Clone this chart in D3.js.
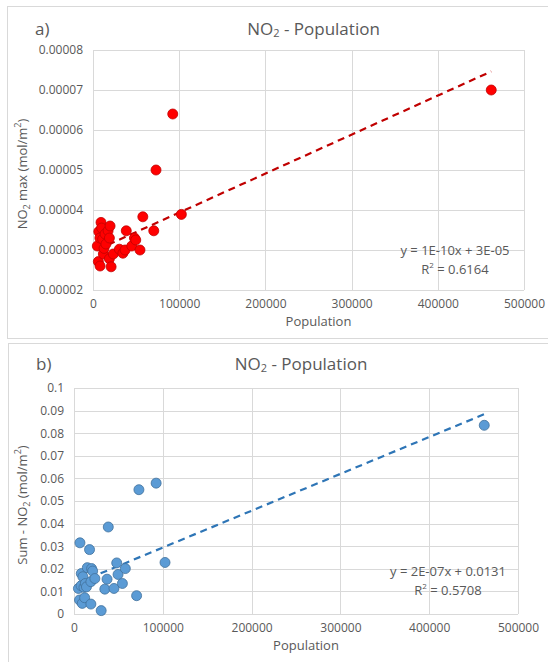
<!DOCTYPE html>
<html>
<head>
<meta charset="utf-8">
<script src="https://cdn.jsdelivr.net/npm/d3@7"></script>
<style>
  body { margin: 0; background: #fff; }
  svg { display: block; font-family: "Open Sans", sans-serif; }
  .grid line { stroke: #d9d9d9; stroke-width: 1; }
  .tick text { fill: #595959; }
</style>
</head>
<body>
<svg width="548" height="662"></svg>
<script>
// population of each town (same for both panels)
var population = [5000, 6200, 6700, 8000, 8200, 9300, 10000, 11200, 12000, 12800, 14000, 15000, 17500, 19000, 19000, 19800,
    21000, 23500, 30600, 34700, 37200, 38600, 45000, 48100, 49600, 54500, 57800, 70500, 73100, 92500, 102500, 462000];
// a) NO2 max (mol/m2)
var no2Max = [0.0000310, 0.0000271, 0.0000346, 0.0000330, 0.0000260, 0.0000369, 0.0000355, 0.0000327, 0.0000290, 0.0000304,
    0.0000340, 0.0000315, 0.0000348, 0.0000278, 0.0000330, 0.0000360, 0.0000258, 0.0000290, 0.0000302, 0.0000292, 0.0000300,
    0.0000348, 0.0000310, 0.0000330, 0.0000325, 0.0000300, 0.0000383, 0.0000348, 0.0000500, 0.0000640, 0.0000389, 0.0000700];
// b) Sum - NO2 (mol/m2)
var no2Sum = [0.0113, 0.0062, 0.0315, 0.0125, 0.0179, 0.0047, 0.0165, 0.0118, 0.0072, 0.0135, 0.0120, 0.0205, 0.0285, 0.0143,
    0.0044, 0.0201, 0.0190, 0.0157, 0.0015, 0.0110, 0.0154, 0.0385, 0.0113, 0.0226, 0.0175, 0.0135, 0.0201, 0.0081, 0.0550,
    0.0579, 0.0228, 0.0835];

var xTicks = [0, 100000, 200000, 300000, 400000, 500000];
var yTicksA = [0.00002, 0.00003, 0.00004, 0.00005, 0.00006, 0.00007, 0.00008];
var yTicksB = [0, 0.01, 0.02, 0.03, 0.04, 0.05, 0.06, 0.07, 0.08, 0.09, 0.1];

// trendlines (the label rounds them)
var trendA = {slope: 9.75e-11, intercept: 0.0000296, eq: "y = 1E-10x + 3E-05", r2: "0.6164"};
var trendB = {slope: 1.63e-7, intercept: 0.0131, eq: "y = 2E-07x + 0.0131", r2: "0.5708"};

var svg = d3.select("svg");
var textColor = "#595959";

function drawPanel(p) {
    var g = svg.append("g");

    g.append("rect")
        .attr("x", p.box[0] + 0.5).attr("y", p.box[1] + 0.5)
        .attr("width", 600).attr("height", p.box[2])
        .attr("fill", "#fff").attr("stroke", "#d9d9d9");

    var x = d3.scaleLinear().domain([0, 500000]).range([p.left, p.right]);
    var y = d3.scaleLinear().domain(p.yDomain).range([p.bottom, p.top]);

    // gridlines
    g.append("g").attr("class", "grid")
        .selectAll("line").data(p.yTicks).enter().append("line")
        .attr("x1", p.left).attr("x2", p.right)
        .attr("y1", function(d){ return Math.round(y(d)) + 0.5; })
        .attr("y2", function(d){ return Math.round(y(d)) + 0.5; });
    g.append("g").attr("class", "grid")
        .selectAll("line").data(xTicks).enter().append("line")
        .attr("y1", p.top).attr("y2", p.bottom)
        .attr("x1", function(d){ return Math.round(x(d)) + 0.5; })
        .attr("x2", function(d){ return Math.round(x(d)) + 0.5; });

    // axes, labels only
    var xAxis = g.append("g")
        .attr("transform", "translate(0," + (p.bottom + 6) + ")")
        .call(d3.axisBottom(x).tickValues(xTicks).tickSize(0).tickFormat(d3.format("d")));
    var yAxis = g.append("g")
        .attr("transform", "translate(" + (p.left - 7) + ",0)")
        .call(d3.axisLeft(y).tickValues(p.yTicks).tickSize(0).tickFormat(p.yFormat));
    [xAxis, yAxis].forEach(function(a) {
        a.select(".domain").remove();
        a.selectAll("text").attr("font-size", 12).attr("font-family", "Open Sans, sans-serif");
    });

    // trendline over the data range
    var xs = d3.extent(population);
    g.append("line")
        .attr("x1", x(xs[0])).attr("y1", y(p.trend.intercept + p.trend.slope * xs[0]))
        .attr("x2", x(xs[1])).attr("y2", y(p.trend.intercept + p.trend.slope * xs[1]))
        .attr("stroke", p.lineColor).attr("stroke-width", 2.2)
        .attr("stroke-dasharray", "7,5");

    g.selectAll("circle").data(p.values).enter().append("circle")
        .attr("cx", function(d, i){ return x(population[i]); })
        .attr("cy", function(d){ return y(d); })
        .attr("r", 5)
        .attr("fill", p.fill).attr("stroke", p.stroke).attr("stroke-width", 0.8);

    // title
    var title = g.append("text")
        .attr("x", (p.left + p.right) / 2 + 5).attr("y", p.titleY)
        .attr("text-anchor", "middle").attr("dominant-baseline", "middle")
        .attr("font-size", 17).attr("fill", textColor);
    title.append("tspan").text("NO");
    title.append("tspan").text("2").attr("font-size", 11).attr("dy", 4);
    title.append("tspan").text(" - Population").attr("dy", -4);

    g.append("text")
        .attr("x", p.box[0] + 28).attr("y", p.titleY)
        .attr("dominant-baseline", "middle")
        .attr("font-size", 17).attr("fill", textColor)
        .text(p.letter);

    g.append("text")
        .attr("x", (p.left + p.right) / 2 + 10).attr("y", p.bottom + 33)
        .attr("text-anchor", "middle").attr("dominant-baseline", "middle")
        .attr("font-size", 13).attr("fill", textColor)
        .text("Population");

    // y axis title
    var yt = g.append("text")
        .attr("transform", "translate(24," + ((p.top + p.bottom) / 2 + 4) + ") rotate(-90)")
        .attr("text-anchor", "middle").attr("dominant-baseline", "middle")
        .attr("font-size", 13).attr("fill", textColor);
    yt.append("tspan").text(p.yPrefix + "NO");
    yt.append("tspan").text("2").attr("font-size", 9).attr("dy", 4);
    yt.append("tspan").text(p.ySuffix + " (mol/m").attr("dy", -4);
    yt.append("tspan").text("2").attr("font-size", 9).attr("dy", -5);
    yt.append("tspan").text(")").attr("dy", 5);

    // equation
    g.append("text")
        .attr("x", p.eqX).attr("y", p.eqY)
        .attr("text-anchor", "middle").attr("dominant-baseline", "middle")
        .attr("font-size", 13).attr("fill", textColor)
        .text(p.trend.eq);
    var r = g.append("text")
        .attr("x", p.eqX).attr("y", p.eqY + 19)
        .attr("text-anchor", "middle").attr("dominant-baseline", "middle")
        .attr("font-size", 13).attr("fill", textColor);
    r.append("tspan").text("R");
    r.append("tspan").text("2").attr("font-size", 8).attr("dy", -5);
    r.append("tspan").text(" = " + p.trend.r2).attr("dy", 5);
}

drawPanel({
    box: [7, 6, 332], letter: "a)", titleY: 30,
    left: 93, right: 524, top: 50, bottom: 290,
    yDomain: [0.00002, 0.00008], yTicks: yTicksA,
    yFormat: d3.format(".5f"),
    values: no2Max, trend: trendA,
    fill: "#ff0000", stroke: "#c00000", lineColor: "#c00000",
    yPrefix: "", ySuffix: " max",
    eqX: 455, eqY: 252
});

drawPanel({
    box: [8, 343, 340], letter: "b)", titleY: 365,
    left: 74, right: 518, top: 388, bottom: 614,
    yDomain: [0, 0.1], yTicks: yTicksB,
    yFormat: function(d){ return String(+d.toFixed(2)); },
    values: no2Sum, trend: trendB,
    fill: "#5b9bd5", stroke: "#41719c", lineColor: "#2e75b6",
    yPrefix: "Sum - ", ySuffix: "",
    eqX: 448, eqY: 573
});
</script>
</body>
</html>
